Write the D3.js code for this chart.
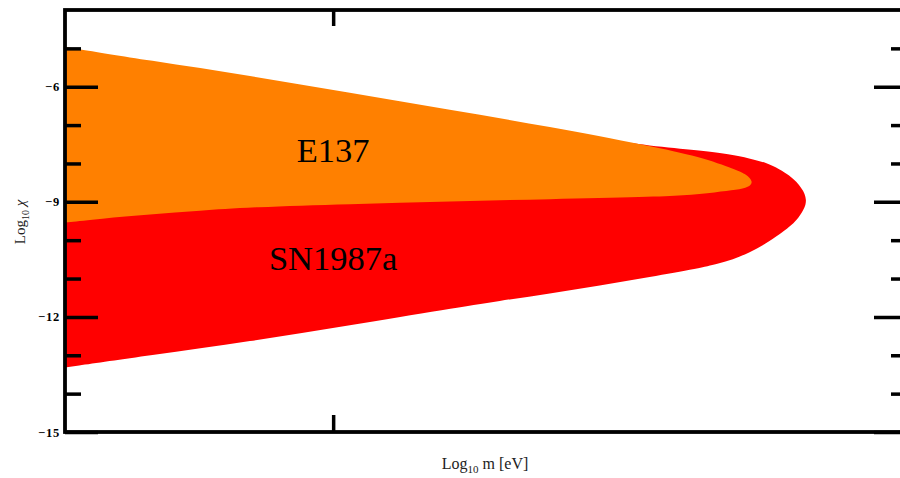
<!DOCTYPE html>
<html>
<head>
<meta charset="utf-8">
<script src="https://cdn.jsdelivr.net/npm/d3@7"></script>
<style>
  html, body { margin: 0; padding: 0; background: #fff; }
  svg { display: block; }
</style>
</head>
<body>
<svg id="chart" width="900" height="478"></svg>
<script>
// ---- data ----
const xDomain = [6, 9.14];           // Log10 m [eV]
const yDomain = [-15, -4];           // Log10 chi
const xTickValues = [7];
const yMajorTicks = [-15, -12, -9, -6];
const yMinorTicks = [-14, -13, -11, -10, -8, -7, -5];

// E137 excluded region contour (upper edge left->right, then lower edge right->left)
const e137LogM   = [6.000, 6.317, 6.690, 7.062, 7.435, 7.808, 8.180, 8.367, 8.505, 8.540, 8.568, 8.550, 8.505, 8.430, 8.303, 8.180, 7.808, 7.435, 7.062, 6.690, 6.503, 6.317, 6.130, 6.000];
const e137LogChi = [-4.96, -5.32, -5.71, -6.16, -6.60, -7.04, -7.54, -7.82, -8.17, -8.28, -8.48, -8.62, -8.69, -8.75, -8.84, -8.87, -8.93, -8.99, -9.06, -9.14, -9.23, -9.33, -9.44, -9.54];

// SN1987a excluded region contour
const snLogM   = [6.000, 6.690, 7.435, 7.994, 8.180, 8.367, 8.479, 8.553, 8.616, 8.665, 8.702, 8.728, 8.747, 8.759, 8.764,
                  8.762, 8.753, 8.731, 8.702, 8.665, 8.616, 8.553, 8.490, 8.430, 8.367, 8.180, 7.994, 7.808, 7.621, 7.435, 7.062, 6.690, 6.317, 6.000];
const snLogChi = [-5.82, -6.34, -6.94, -7.36, -7.54, -7.66, -7.76, -7.87, -7.98, -8.15, -8.31, -8.48, -8.65, -8.79, -8.95,
                  -9.08, -9.22, -9.46, -9.65, -9.85, -10.08, -10.32, -10.51, -10.62, -10.73, -10.96, -11.18, -11.39, -11.58, -11.79, -12.22, -12.64, -13.00, -13.32];

const regionNames = ["SN1987a", "E137"];
const regionColors = ["#FF0000", "#FF8000"];
const labelLogM = [7.0, 7.0];
const labelLogChi = [-10.79, -7.97];

// ---- drawing ----
const svg = d3.select("#chart");
const L = 65, R = 907, T = 10, B = 432;
const x = d3.scaleLinear().domain(xDomain).range([L, R]);
const y = d3.scaleLinear().domain(yDomain).range([B, T]);

svg.append("defs").append("clipPath").attr("id", "plotclip")
  .append("rect").attr("x", L).attr("y", T).attr("width", R - L).attr("height", B - T);

const line = d3.line()
  .x(d => x(d[0])).y(d => y(d[1]))
  .curve(d3.curveBasis);

const regions = [
  d3.zip(snLogM, snLogChi),
  d3.zip(e137LogM, e137LogChi)
];

const g = svg.append("g").attr("clip-path", "url(#plotclip)");
g.selectAll("path.region").data(regions).join("path")
  .attr("class", "region")
  .attr("d", d => line(d) + "Z")
  .attr("fill", (d, i) => regionColors[i])
  .attr("stroke", "none");

// region labels
svg.selectAll("text.rlabel").data(regionNames).join("text")
  .attr("class", "rlabel")
  .attr("x", (d, i) => x(labelLogM[i]))
  .attr("y", (d, i) => y(labelLogChi[i]))
  .attr("text-anchor", "middle")
  .attr("font-family", "'Liberation Serif', 'Times New Roman', serif")
  .attr("font-size", 34.5)
  .attr("fill", "#000")
  .text(d => d);

// axes
const tickW = 3.5;
function styleAxis(sel) {
  sel.select(".domain").remove();
  sel.selectAll(".tick line").attr("stroke", "#000").attr("stroke-width", tickW);
}
const fmt = d => d3.format("d")(d);

svg.append("g").attr("transform", `translate(${L},0)`)
  .call(d3.axisLeft(y).tickValues(yMajorTicks).tickSize(-33).tickPadding(5).tickFormat(fmt))
  .call(styleAxis)
  .call(s => s.selectAll(".tick text")
    .attr("font-family", "'Liberation Serif', 'Times New Roman', serif")
    .attr("font-weight", "bold").attr("font-size", 12.5).attr("letter-spacing", 0.8)
    .attr("fill", "#000"));
svg.append("g").attr("transform", `translate(${L},0)`)
  .call(d3.axisLeft(y).tickValues(yMinorTicks).tickSize(-16).tickFormat(""))
  .call(styleAxis);
svg.append("g").attr("transform", `translate(${R},0)`)
  .call(d3.axisRight(y).tickValues(yMajorTicks).tickSize(-33).tickFormat(""))
  .call(styleAxis);
svg.append("g").attr("transform", `translate(${R},0)`)
  .call(d3.axisRight(y).tickValues(yMinorTicks).tickSize(-16).tickFormat(""))
  .call(styleAxis);
svg.append("g").attr("transform", `translate(0,${B})`)
  .call(d3.axisBottom(x).tickValues(xTickValues).tickSize(-17).tickFormat(""))
  .call(styleAxis);
svg.append("g").attr("transform", `translate(0,${T})`)
  .call(d3.axisTop(x).tickValues(xTickValues).tickSize(-16).tickFormat(""))
  .call(styleAxis);

// frame
svg.append("rect").attr("x", L).attr("y", T).attr("width", R - L).attr("height", B - T)
  .attr("fill", "none").attr("stroke", "#000").attr("stroke-width", 3.8);

// axis titles
const xt = svg.append("text")
  .attr("x", 485).attr("y", 469)
  .attr("text-anchor", "middle")
  .attr("font-family", "'Liberation Serif', 'Times New Roman', serif")
  .attr("font-size", 16).attr("fill", "#222");
xt.append("tspan").text("Log");
xt.append("tspan").attr("font-size", 11).attr("dy", 4).text("10");
xt.append("tspan").attr("dy", -4).text(" m [eV]");

const yt = svg.append("text")
  .attr("transform", "translate(25,222) rotate(-90)")
  .attr("text-anchor", "middle")
  .attr("font-family", "'Liberation Serif', 'Times New Roman', serif")
  .attr("font-size", 15).attr("fill", "#222");
yt.append("tspan").text("Log");
yt.append("tspan").attr("font-size", 10).attr("dy", 4).text("10");
yt.append("tspan").attr("dy", -4).attr("font-style", "italic").text(" χ");
</script>
</body>
</html>
